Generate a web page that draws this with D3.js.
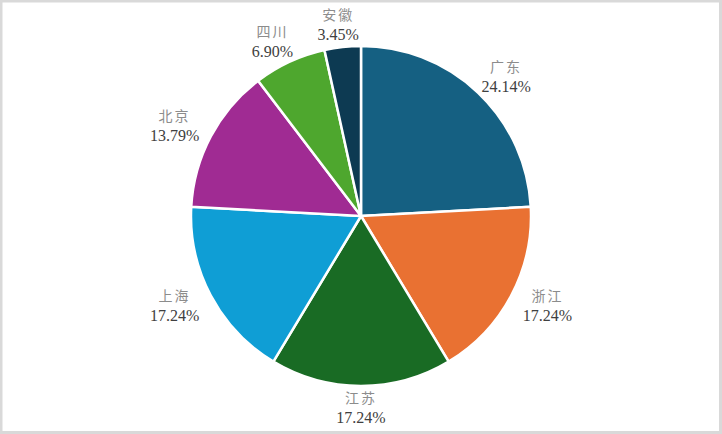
<!DOCTYPE html>
<html>
<head>
<meta charset="utf-8">
<script src="https://cdn.jsdelivr.net/npm/d3@7"></script>
<style>
  html, body { margin: 0; padding: 0; background: #fff; }
  svg { display: block; }
  .lbl { font-family: "Liberation Serif", "Times New Roman", "Noto Sans CJK SC", serif; }
</style>
</head>
<body>
<svg id="chart" width="722" height="434"></svg>
<script>
// data
var provinces = ["广东", "浙江", "江苏", "上海", "北京", "四川", "安徽"];
var counts = [7, 5, 5, 5, 4, 2, 1];
var colors = ["#156082", "#e97132", "#196b24", "#0f9ed5", "#a02b93", "#4ea72e", "#0d3a52"];

var width = 722, height = 434;
var cx = 361, cy = 216, radius = 170;

var svg = d3.select("#chart");

// frame
svg.append("rect")
  .attr("x", 1).attr("y", 1)
  .attr("width", width - 2.5).attr("height", height - 2.5)
  .attr("fill", "#fff")
  .attr("stroke", "#d9d9d9")
  .attr("stroke-width", 3);

var total = d3.sum(counts);
var data = provinces.map(function (p, i) {
  return { name: p, value: counts[i], color: colors[i] };
});

var pie = d3.pie()
  .sort(null)
  .value(function (d) { return d.value; });

var arc = d3.arc().innerRadius(0).outerRadius(radius);

var g = svg.append("g").attr("transform", "translate(" + cx + "," + cy + ")");

var arcs = pie(data);

g.selectAll("path.slice")
  .data(arcs)
  .enter()
  .append("path")
  .attr("class", "slice")
  .attr("d", arc)
  .attr("fill", function (d) { return d.data.color; })
  .attr("stroke", "#fff")
  .attr("stroke-width", 2.5)
  .attr("stroke-linejoin", "round");

// labels outside each slice
var labelR = radius + 10;
var boxW = 62, boxH = 24;
var labels = g.selectAll("g.label")
  .data(arcs)
  .enter()
  .append("g")
  .attr("class", "label")
  .attr("transform", function (d) {
    var a = (d.startAngle + d.endAngle) / 2;
    var s = Math.sin(a), c = Math.cos(a);
    var x = labelR * s + s * boxW / 2;
    var y = -labelR * c - c * boxH / 2;
    return "translate(" + x + "," + y + ")";
  });

labels.append("text")
  .attr("class", "lbl")
  .attr("text-anchor", "middle")
  .attr("y", -5)
  .attr("font-size", 14)
  .attr("fill", "#8c8c8c")
  .attr("letter-spacing", 2)
  .text(function (d) { return d.data.name; });

labels.append("text")
  .attr("class", "lbl")
  .attr("text-anchor", "middle")
  .attr("y", 15)
  .attr("font-size", 16)
  .attr("fill", "#404040")
  .text(function (d) { return (d.data.value / total * 100).toFixed(2) + "%"; });
</script>
</body>
</html>
